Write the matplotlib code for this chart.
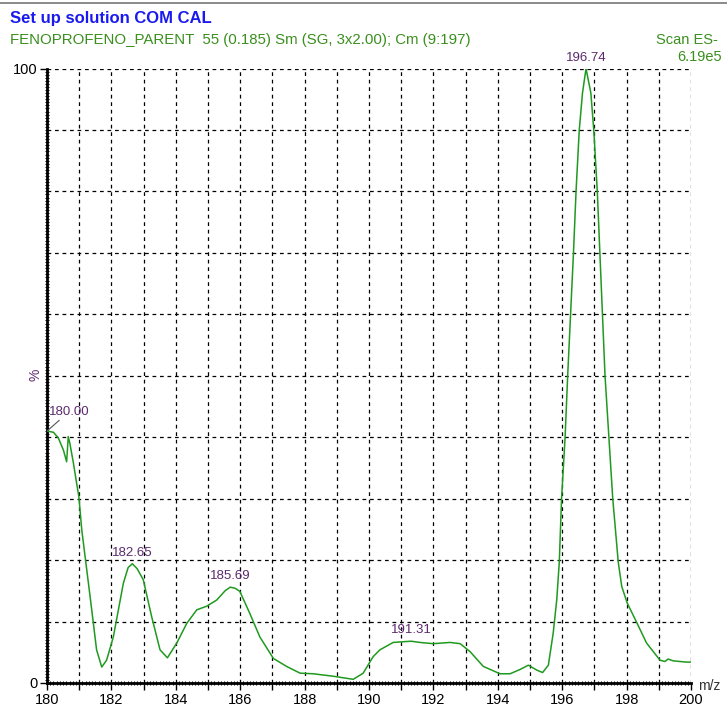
import numpy as np
import matplotlib.pyplot as plt
from matplotlib.ticker import MultipleLocator, FuncFormatter

plt.rcParams['font.family'] = ['Liberation Sans', 'DejaVu Sans']

# spectrum trace (m/z, relative intensity %)
mz = [180.00, 180.20, 180.35, 180.51, 180.61, 180.66, 180.71, 180.82, 180.92, 180.99,
      181.08, 181.34, 181.54, 181.70, 181.85, 182.06, 182.37, 182.52, 182.65, 182.80,
      182.99, 183.25, 183.51, 183.74, 184.03, 184.34, 184.65, 184.96, 185.27, 185.53,
      185.69, 185.85, 185.99, 186.30, 186.61, 187.03, 187.44, 187.86, 188.27, 188.89,
      189.51, 189.82, 190.13, 190.34, 190.75, 191.02, 191.31, 191.58, 191.99, 192.52,
      192.83, 193.14, 193.55, 194.07, 194.38, 194.69, 194.95, 195.21, 195.39, 195.57,
      195.72, 195.83, 195.91, 195.98, 196.09, 196.17, 196.26, 196.35, 196.43, 196.53,
      196.63, 196.74, 196.89, 196.98, 197.09, 197.17, 197.25, 197.33, 197.45, 197.57,
      197.74, 197.85, 198.02, 198.30, 198.62, 199.04, 199.19, 199.29, 199.45, 199.86,
      200.00]
intensity = [41.0, 40.8, 39.9, 37.9, 36.0, 40.1, 39.0, 35.8, 32.5, 30.3,
             24.9, 14.0, 5.4, 2.6, 3.7, 7.5, 16.2, 18.8, 19.4, 18.6,
             16.8, 10.8, 5.4, 4.1, 6.5, 9.7, 11.9, 12.5, 13.5, 15.0,
             15.6, 15.4, 14.9, 11.3, 7.5, 4.0, 2.7, 1.6, 1.5, 1.1,
             0.6, 1.6, 4.3, 5.4, 6.6, 6.7, 6.8, 6.6, 6.4, 6.6,
             6.4, 5.1, 2.7, 1.5, 1.5, 2.2, 2.9, 2.1, 1.7, 2.9,
             8.1, 13.5, 19.7, 30.0, 40.0, 50.0, 60.0, 70.0, 80.0, 90.0,
             96.0, 100.0, 96.0, 90.0, 80.0, 70.0, 60.0, 50.0, 40.0, 30.0,
             19.7, 15.7, 13.0, 10.0, 6.5, 3.7, 3.5, 3.9, 3.6, 3.4,
             3.4]

# labelled peaks
peak_mz = [180.00, 182.65, 185.69, 191.31, 196.74]
peak_int = [41.0, 19.4, 15.6, 6.8, 100.0]
peak_text = ['180.00', '182.65', '185.69', '191.31', '196.74']

title = 'Set up solution COM CAL'
subtitle = 'FENOPROFENO_PARENT  55 (0.185) Sm (SG, 3x2.00); Cm (9:197)'
scan_info = ['Scan ES-', '6.19e5']

W, H = 727, 706
fig = plt.figure(figsize=(W / 100, H / 100), dpi=100)
ax = fig.add_axes([47 / W, 1 - 683 / H, 644 / W, 614.5 / H])

green = '#1f9a1f'
purple = '#5b2a6e'

ax.plot(mz, intensity, color=green, lw=1.1, zorder=3)

ax.set_xlim(180, 200)
ax.set_ylim(0, 100)

ax.xaxis.set_major_locator(MultipleLocator(1))
ax.xaxis.set_major_formatter(FuncFormatter(lambda v, p: '%d' % v if int(round(v)) % 2 == 0 else ''))
ax.set_yticks([0, 100])
ax.yaxis.set_minor_locator(MultipleLocator(0.5))
ax.xaxis.set_minor_locator(MultipleLocator(0.1))
ax.tick_params(axis='both', which='major', labelsize=10.5, length=5, width=1, pad=2)
ax.tick_params(axis='both', which='minor', length=2.5, width=0.8, direction='inout')

# dashed grid
for xv in range(181, 201):
    ax.axvline(xv, color='black', lw=0.9, ls=(0, (3, 3)), zorder=1)
for yv in range(10, 101, 10):
    ax.axhline(yv, color='black', lw=0.9, ls=(0, (3, 3)), zorder=1)

for s in ['top', 'right']:
    ax.spines[s].set_visible(False)
for s in ['left', 'bottom']:
    ax.spines[s].set_linewidth(2)

# peak labels
for x, y, t in zip(peak_mz, peak_int, peak_text):
    if t == '180.00':
        ax.annotate(t, xy=(x, y), xytext=(x + 0.06, y + 2.2), fontsize=9.5, color=purple,
                    ha='left', va='bottom',
                    arrowprops=dict(arrowstyle='-', color='#555555', lw=0.8, shrinkA=0, shrinkB=0))
    else:
        ax.text(x, y + 0.8, t, fontsize=9.5, color=purple, ha='center', va='bottom')

fig.text(698 / W, 1 - 686 / H, 'm/z', fontsize=10, color='#333333', ha='left', va='center')
fig.text(36 / W, 1 - 375 / H, '%', fontsize=10, color=purple, rotation=90, ha='center', va='center')

fig.text(10 / W, 1 - 18 / H, title, fontsize=12, fontweight='bold', color='#1a1aee', ha='left', va='center')
fig.text(10 / W, 1 - 40 / H, subtitle, fontsize=10.8, color='#3a8f1e', ha='left', va='center')
fig.text(718 / W, 1 - 40 / H, scan_info[0], fontsize=10.5, color='#3a8f1e', ha='right', va='center')
fig.text(722 / W, 1 - 57 / H, scan_info[1], fontsize=10.5, color='#3a8f1e', ha='right', va='center')

fig.add_artist(plt.Line2D([0, 1], [1 - 3 / H, 1 - 3 / H], color='#777777', lw=1.2))

fig.savefig('out.png', dpi=100)
